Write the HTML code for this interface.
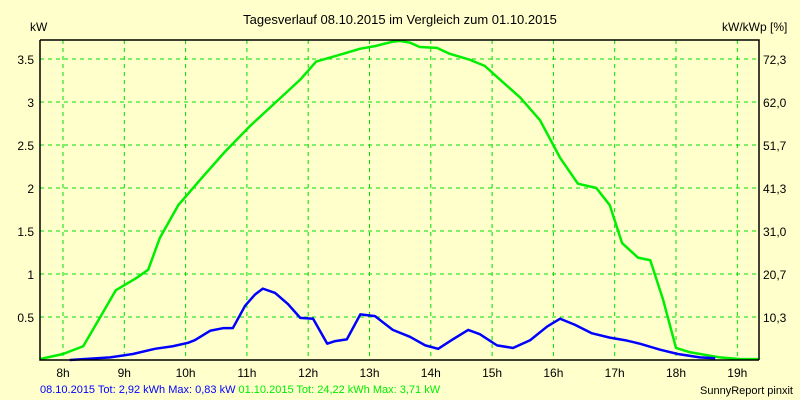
<!DOCTYPE html>
<html><head><meta charset="utf-8"><style>
html,body{margin:0;padding:0;background:#ffffcc;}
svg{display:block;font-family:"Liberation Sans",sans-serif;}
</style></head><body>
<svg id="chart" width="800" height="400">
<rect x="0" y="0" width="800" height="400" fill="#ffffcc"/>
<text x="400" y="24" text-anchor="middle" font-size="13" fill="#000">Tagesverlauf 08.10.2015 im Vergleich zum 01.10.2015</text>
<text x="30" y="31" font-size="12" fill="#000">kW</text>
<text x="722" y="31" font-size="12" fill="#000">kW/kWp [%]</text>
<g id="grid"></g><g id="series"></g><g id="axes"></g>
<text x="40" y="393" font-size="11" fill="#0000ff">08.10.2015 Tot: 2,92 kWh Max: 0,83 kW <tspan fill="#00ee00">01.10.2015 Tot: 24,22 kWh Max: 3,71 kW</tspan></text>
<text x="793" y="394" text-anchor="end" font-size="11" fill="#000">SunnyReport pinxit</text>
</svg>
<script>
const xTicks=[8,9,10,11,12,13,14,15,16,17,18,19];
const yTicks=[0.5,1,1.5,2,2.5,3,3.5];
const yTickLabels=["0.5","1","1.5","2","2.5","3","3.5"];
const rightTickLabels=["10,3","20,7","31,0","41,3","51,7","62,0","72,3"];
const greenT=[7.62,8.0,8.33,8.6,8.86,9.0,9.19,9.39,9.58,9.88,10.23,10.64,11.05,11.46,11.87,12.13,12.52,12.85,13.09,13.37,13.5,13.66,13.82,14.1,14.31,14.64,14.88,15.13,15.46,15.78,16.11,16.4,16.7,16.92,17.12,17.38,17.58,17.79,18.0,18.23,18.72,19.05,19.35];
const greenV=[0.01,0.07,0.16,0.49,0.81,0.87,0.95,1.05,1.42,1.80,2.09,2.42,2.72,2.99,3.26,3.47,3.55,3.62,3.65,3.70,3.71,3.69,3.64,3.63,3.56,3.49,3.42,3.26,3.05,2.79,2.35,2.05,2.0,1.80,1.36,1.19,1.16,0.70,0.14,0.09,0.03,0.01,0.01];
const blueT=[8.11,8.77,9.14,9.5,9.79,10.04,10.15,10.4,10.61,10.77,10.97,11.13,11.26,11.46,11.67,11.87,12.08,12.31,12.44,12.63,12.85,13.09,13.38,13.66,13.91,14.12,14.36,14.61,14.8,15.08,15.34,15.62,15.9,16.11,16.35,16.63,16.92,17.17,17.41,17.74,18.03,18.39,18.64];
const blueV=[0.0,0.03,0.07,0.13,0.16,0.2,0.23,0.34,0.37,0.37,0.63,0.76,0.83,0.78,0.65,0.49,0.48,0.19,0.22,0.24,0.53,0.51,0.35,0.27,0.17,0.13,0.24,0.35,0.30,0.17,0.14,0.23,0.39,0.48,0.41,0.31,0.26,0.23,0.19,0.12,0.07,0.03,0.02];
const NS="http://www.w3.org/2000/svg";
const L=40,R=759,T=40,B=360;
function xs(t){return 63+(t-8)*61.3;}
function ys(v){return B-v*86;}
function mk(tag,attrs,parent){const e=document.createElementNS(NS,tag);for(const k in attrs)e.setAttribute(k,attrs[k]);parent.appendChild(e);return e;}
const grid=document.getElementById('grid'),axes=document.getElementById('axes'),series=document.getElementById('series');
xTicks.forEach(t=>{
 const l=mk('line',{x1:xs(t),x2:xs(t),y1:T,y2:B,stroke:'#00dd00','stroke-dasharray':'4,4'},grid);
 
 
 const tx=mk('text',{x:xs(t),y:377,'text-anchor':'middle','font-size':'12',fill:'#000'},axes);
 tx.textContent=t+'h';
 
 
});
yTicks.forEach((v,i)=>{
 const l=mk('line',{x1:L,x2:R,y1:ys(v),y2:ys(v),stroke:'#00dd00','stroke-dasharray':'4,4'},grid);
 
 
 const tx=mk('text',{x:34,y:ys(v)+5,'text-anchor':'end','font-size':'12',fill:'#000'},axes);
 tx.textContent=yTickLabels[i];
 
 
 const tr=mk('text',{x:763,y:ys(v)+5,'font-size':'12',fill:'#000'},axes);
 tr.textContent=rightTickLabels[i];
 
 
});
const frame=mk('path',{d:`M${L} ${T}H${R}V${B}M${L} ${T}V${B}H${R}`,stroke:'#000',fill:'none','stroke-width':'1.5'},axes);


function line(T_,V_,color,name){
 const p=mk('polyline',{points:T_.map((t,i)=>xs(t)+','+ys(V_[i])).join(' '),fill:'none',stroke:color,'stroke-width':'2.5','stroke-linejoin':'round'},series);
 
 
}
line(greenT,greenV,'#00ee00','series-01-10-2015');
line(blueT,blueV,'#0000ff','series-08-10-2015');
</script>
</body></html>
